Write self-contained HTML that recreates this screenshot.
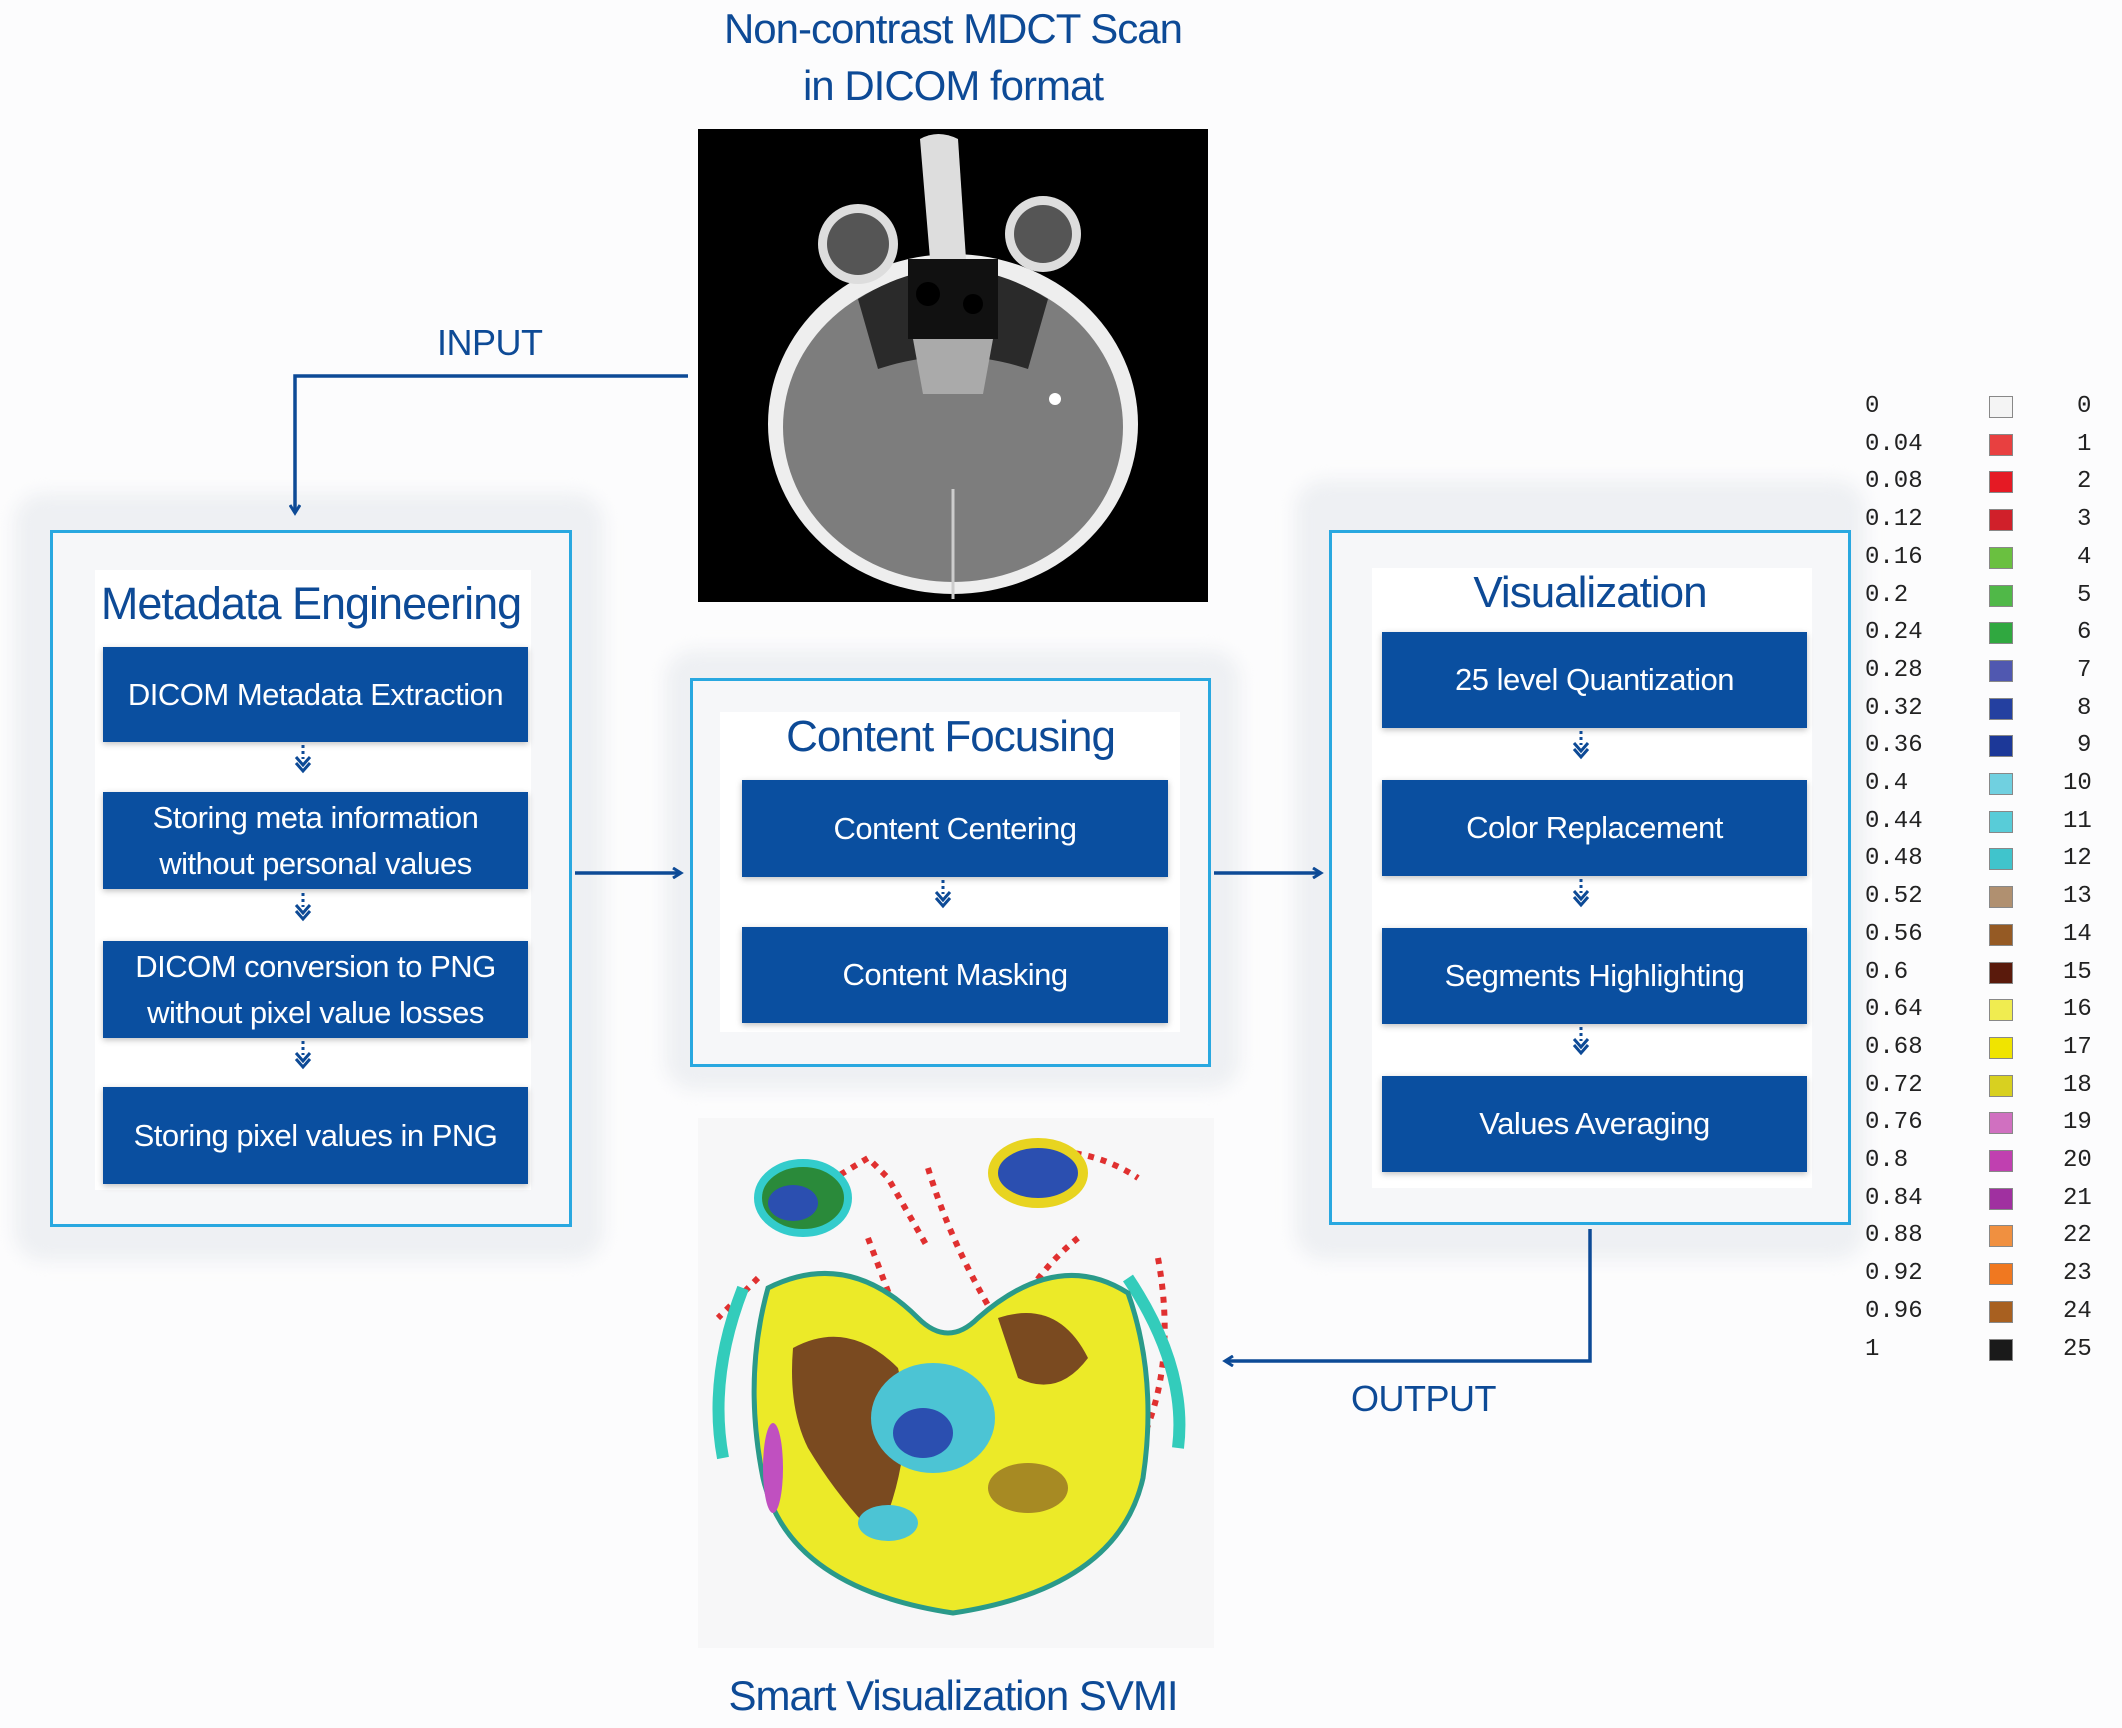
<!DOCTYPE html>
<html><head><meta charset="utf-8"><style>
*{margin:0;padding:0;box-sizing:border-box}
body{width:2122px;height:1728px;background:#fcfcfd;position:relative;overflow:hidden;font-family:"Liberation Sans",sans-serif}
.a{position:absolute}
.shadow{position:absolute;background:#eef0f3;border-radius:30px;filter:blur(8px)}
.frame{position:absolute;border:3px solid #29a8e0;background:#f6f7f9}
.inner{position:absolute;background:#fff}
.ttl{position:absolute;color:#0d4a96;font-size:44px;text-align:center;white-space:nowrap;letter-spacing:-1px}
.bx{position:absolute;background:#0a4fa0;color:#fff;font-size:31px;display:flex;align-items:center;justify-content:center;text-align:center;line-height:46px;box-shadow:0 2px 6px rgba(0,0,0,.25);letter-spacing:-0.5px}
.lbl{position:absolute;color:#0d4a96;font-size:36px;letter-spacing:-0.5px}
.leg{position:absolute;font-family:"Liberation Mono",monospace;font-size:24px;color:#222;line-height:24px}
.sw{position:absolute;width:24px;height:22px;border:1px solid #888}
</style></head><body>

<div class="ttl" style="left:653px;top:5px;width:600px;font-size:42px">Non-contrast MDCT Scan</div>
<div class="ttl" style="left:653px;top:62px;width:600px;font-size:42px">in DICOM format</div>

<!-- CT image -->
<svg class="a" style="left:698px;top:129px" width="510" height="473" viewBox="0 0 510 473">
<rect width="510" height="473" fill="#000"/>
<ellipse cx="255" cy="295" rx="185" ry="170" fill="#eee"/>
<ellipse cx="255" cy="298" rx="170" ry="155" fill="#7d7d7d"/>
<path d="M160 170 Q255 110 350 170 L330 240 Q255 215 180 240Z" fill="#2a2a2a"/>
<circle cx="160" cy="115" r="40" fill="#ddd"/><circle cx="160" cy="115" r="31" fill="#555"/>
<circle cx="345" cy="105" r="38" fill="#ddd"/><circle cx="345" cy="105" r="29" fill="#555"/>
<path d="M222 10 Q240 0 260 10 L268 130 L232 130Z" fill="#ddd"/>
<rect x="210" y="130" width="90" height="80" fill="#111"/>
<circle cx="230" cy="165" r="12" fill="#000"/><circle cx="275" cy="175" r="10" fill="#000"/>
<path d="M215 210 L295 210 L285 265 L225 265Z" fill="#aaa"/>
<path d="M255 360 L255 470" stroke="#ccc" stroke-width="3"/>
<circle cx="357" cy="270" r="6" fill="#fff"/>
</svg>

<div class="lbl" style="left:437px;top:322px">INPUT</div>
<div class="lbl" style="left:1351px;top:1378px">OUTPUT</div>

<!-- Left panel -->
<div class="shadow" style="left:14px;top:493px;width:590px;height:768px"></div>
<div class="frame" style="left:50px;top:530px;width:522px;height:697px"></div>
<div class="inner" style="left:95px;top:570px;width:436px;height:620px"></div>
<div class="ttl" style="left:50px;top:578px;width:522px;font-size:45px">Metadata Engineering</div>
<div class="bx" style="left:103px;top:647px;width:425px;height:95px">DICOM Metadata Extraction</div>
<div class="bx" style="left:103px;top:792px;width:425px;height:97px">Storing meta information<br>without personal values</div>
<div class="bx" style="left:103px;top:941px;width:425px;height:97px">DICOM conversion to PNG<br>without pixel value losses</div>
<div class="bx" style="left:103px;top:1087px;width:425px;height:97px">Storing pixel values in PNG</div>

<!-- Center panel -->
<div class="shadow" style="left:665px;top:650px;width:575px;height:440px"></div>
<div class="frame" style="left:690px;top:678px;width:521px;height:389px"></div>
<div class="inner" style="left:720px;top:712px;width:460px;height:320px"></div>
<div class="ttl" style="left:690px;top:712px;width:521px">Content Focusing</div>
<div class="bx" style="left:742px;top:780px;width:426px;height:97px">Content Centering</div>
<div class="bx" style="left:742px;top:927px;width:426px;height:96px">Content Masking</div>

<!-- Right panel -->
<div class="shadow" style="left:1295px;top:480px;width:570px;height:780px"></div>
<div class="frame" style="left:1329px;top:530px;width:522px;height:695px"></div>
<div class="inner" style="left:1372px;top:568px;width:440px;height:620px"></div>
<div class="ttl" style="left:1329px;top:568px;width:522px">Visualization</div>
<div class="bx" style="left:1382px;top:632px;width:425px;height:96px">25 level Quantization</div>
<div class="bx" style="left:1382px;top:780px;width:425px;height:96px">Color Replacement</div>
<div class="bx" style="left:1382px;top:928px;width:425px;height:96px">Segments Highlighting</div>
<div class="bx" style="left:1382px;top:1076px;width:425px;height:96px">Values Averaging</div>

<!-- Bottom colored image -->
<svg class="a" style="left:698px;top:1118px" width="516" height="530" viewBox="0 0 516 530">
<rect width="516" height="530" fill="#f7f7f8"/>
<g fill="none" stroke="#e03030" stroke-width="6" stroke-dasharray="6,7">
<path d="M120 70 L170 40 L190 60 L230 130"/>
<path d="M170 120 L200 200 L260 240"/>
<path d="M230 50 Q260 150 330 250"/>
<path d="M300 40 Q380 20 440 60"/>
<path d="M380 120 Q330 160 300 230"/>
<path d="M460 140 Q480 250 440 330"/>
<path d="M60 160 L20 200"/>
</g>
<ellipse cx="105" cy="80" rx="45" ry="35" fill="#2a8a3a" stroke="#3cc" stroke-width="8"/>
<ellipse cx="95" cy="85" rx="25" ry="18" fill="#2b4fb0"/>
<ellipse cx="340" cy="55" rx="45" ry="30" fill="#2b4fb0" stroke="#e8d420" stroke-width="10"/>
<path d="M45 170 Q10 260 25 340" fill="none" stroke="#3cb" stroke-width="12"/>
<path d="M430 160 Q490 250 480 330" fill="none" stroke="#3cb" stroke-width="12"/>
<path d="M70 170 Q150 130 220 200 Q250 230 280 200 Q360 130 430 175 Q460 260 445 360 Q420 470 255 495 Q90 470 65 360 Q45 260 70 170Z" fill="#ecea28" stroke="#2a9a8a" stroke-width="5"/>
<path d="M95 230 Q150 200 200 250 Q220 330 180 420 Q140 380 110 330 Q90 290 95 230Z" fill="#7a4a20"/>
<path d="M300 200 Q360 180 390 240 Q360 280 320 260Z" fill="#7a4a20"/>
<ellipse cx="235" cy="300" rx="62" ry="55" fill="#4cc4d4"/>
<ellipse cx="225" cy="315" rx="30" ry="25" fill="#2b4fb0"/>
<ellipse cx="190" cy="405" rx="30" ry="18" fill="#4cc4d4"/>
<ellipse cx="330" cy="370" rx="40" ry="25" fill="#7a4a20" opacity=".6"/>
<ellipse cx="75" cy="350" rx="10" ry="45" fill="#c050c0"/>
</svg>
<div class="ttl" style="left:653px;top:1672px;width:600px;font-size:42px">Smart Visualization SVMI</div>

<!-- connectors on top -->
<svg class="a" style="left:0;top:0" width="2122" height="1728" viewBox="0 0 2122 1728">
<defs>
<marker id="ar" markerWidth="12" markerHeight="12" refX="8" refY="6" orient="auto" markerUnits="userSpaceOnUse"><path d="M1 1 L9 6 L1 11" fill="none" stroke="#0d4a96" stroke-width="3"/></marker>
<g id="d" fill="none" stroke="#0d4a96" stroke-width="3"><line x1="0" y1="0" x2="0" y2="14" stroke-dasharray="3,3"/><polyline points="-7,12 0,20 7,12"/><polyline points="-7,18 0,26 7,18"/></g>
</defs>
<g stroke="#0d4a96" stroke-width="3.5" fill="none">
<polyline points="688,376 295,376 295,512" marker-end="url(#ar)"/>
<line x1="575" y1="873" x2="680" y2="873" marker-end="url(#ar)"/>
<line x1="1214" y1="873" x2="1320" y2="873" marker-end="url(#ar)"/>
<polyline points="1590,1229 1590,1361 1226,1361" marker-end="url(#ar)"/>
</g>
<use href="#d" x="303" y="745"/><use href="#d" x="303" y="893"/><use href="#d" x="303" y="1041"/>
<use href="#d" x="943" y="880"/>
<use href="#d" x="1581" y="731"/><use href="#d" x="1581" y="879"/><use href="#d" x="1581" y="1027"/>
</svg>

<!-- Legend -->
<div id="legend"></div>
<script>
var c=["#f4f4f4","#e84040","#e51a24","#d0202a","#6ac040","#50b848","#30a840","#5058b0","#2440a0","#1c3898","#70d0e0","#58ccd8","#40c4cc","#b09070","#955a24","#5a1a0c","#f0ec50","#f0e400","#d8d020","#d070c0","#c040b0","#a030a0","#f09040","#f07820","#a86020","#1a1a1a"];
var h="";
for(var i=0;i<26;i++){var y=395+i*37.7;var v=(i*0.04).toFixed(2).replace(/0+$/,'').replace(/\.$/,'');if(i==0)v="0";if(i==25)v="1";
h+='<div class="leg" style="left:1865px;top:'+y+'px">'+v+'</div><div class="sw" style="left:1989px;top:'+(y+1)+'px;background:'+c[i]+'"></div><div class="leg" style="left:'+(i<10?2077:2063)+'px;top:'+y+'px">'+i+'</div>';}
document.getElementById('legend').innerHTML=h;
</script>
</body></html>
